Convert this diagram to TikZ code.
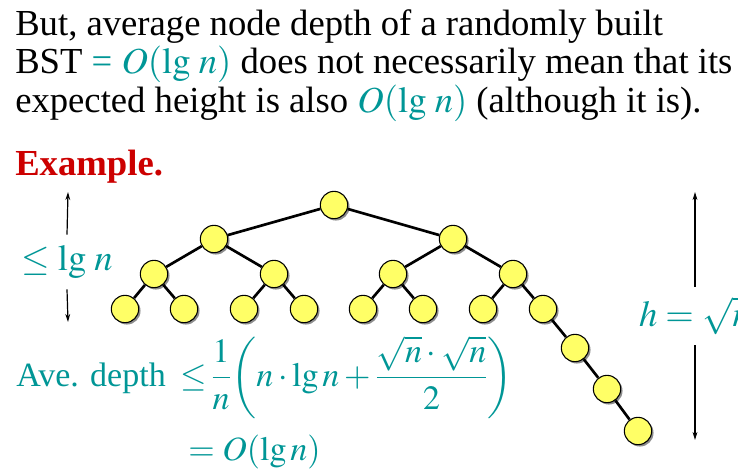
\documentclass[tikz,border=0pt]{standalone}
\usepackage{amsmath}
\usepackage{mathptmx}
\usepackage{fontspec}
\setmainfont{Liberation Serif}
\usetikzlibrary{shadows,arrows.meta}
\definecolor{tealtext}{RGB}{0,150,150}
\definecolor{exred}{RGB}{204,0,0}
\definecolor{nodefill}{RGB}{255,255,102}
\begin{document}
\begin{tikzpicture}[x=0.75pt,y=-0.75pt,
  bstnode/.style={circle,draw=black,line width=0.8pt,fill=nodefill,minimum size=20.5pt,inner sep=0pt,
    drop shadow={shadow xshift=1.4pt,shadow yshift=-1.4pt,fill=black!45,opacity=1}},
  bstedge/.style={line width=2pt},
  dimarrow/.style={-{Stealth[length=6pt,width=3.6pt]},line width=0.9pt},
  bigtext/.style={font=\fontsize{27.5pt}{31pt}\selectfont}]
\useasboundingbox (0,0) rectangle (738,472);
% text above the tree
\node[bigtext,anchor=base west,inner sep=0pt] (line1) at (15,35) {But, average node depth of a randomly built};
\node[bigtext,anchor=base west,inner sep=0pt] (line2) at (15,73) {BST {\color{tealtext}= $O(\lg\,n)$} does not necessarily mean that its};
\node[bigtext,anchor=base west,inner sep=0pt] (line3) at (15,112) {expected height is also {\color{tealtext}$O(\lg\,n)$} (although it is).};
\node[bigtext,anchor=base west,inner sep=0pt,text=exred] (exLbl) at (15,175) {\bfseries Example.};
% the tree
\path[draw]  (334,205)node[bstnode] (n1) {};
\path[draw]  (214,239)node[bstnode] (n2) {};
\path[draw]  (453,239)node[bstnode] (n3) {};
\path[draw]  (154,274)node[bstnode] (n4) {};
\path[draw]  (274,274)node[bstnode] (n5) {};
\path[draw]  (393,274)node[bstnode] (n6) {};
\path[draw]  (513,274)node[bstnode] (n7) {};
\path[draw]  (125,309)node[bstnode] (n8) {};
\path[draw]  (184,309)node[bstnode] (n9) {};
\path[draw]  (244,309)node[bstnode] (n10) {};
\path[draw]  (304,309)node[bstnode] (n11) {};
\path[draw]  (363,309)node[bstnode] (n12) {};
\path[draw]  (423,309)node[bstnode] (n13) {};
\path[draw]  (483,309)node[bstnode] (n14) {};
\path[draw]  (543,309)node[bstnode] (n15) {};
\path[draw]  (575,348)node[bstnode] (c1) {};
\path[draw]  (607,389)node[bstnode] (c2) {};
\path[draw]  (638,431)node[bstnode] (c3) {};
\draw[bstedge] (n1) -- (n2);
\draw[bstedge] (n1) -- (n3);
\draw[bstedge] (n2) -- (n4);
\draw[bstedge] (n2) -- (n5);
\draw[bstedge] (n3) -- (n6);
\draw[bstedge] (n3) -- (n7);
\draw[bstedge] (n4) -- (n8);
\draw[bstedge] (n4) -- (n9);
\draw[bstedge] (n5) -- (n10);
\draw[bstedge] (n5) -- (n11);
\draw[bstedge] (n6) -- (n12);
\draw[bstedge] (n6) -- (n13);
\draw[bstedge] (n7) -- (n14);
\draw[bstedge] (n7) -- (n15);
\draw[bstedge] (n15) -- (c1);
\draw[bstedge] (c1) -- (c2);
\draw[bstedge] (c2) -- (c3);
% heights
\coordinate (lgTop) at (68,192);
\coordinate (lgBot) at (68,322);
\node[bigtext,text=tealtext,inner xsep=0pt,inner ysep=8pt] (lgLbl) at (67,262) {$\le\lg\,n$};
\draw[dimarrow] (lgLbl.north) -- (lgTop);
\draw[dimarrow] (lgLbl.south) -- (lgBot);
\coordinate (hTop) at (695,192);
\coordinate (hBot) at (695,440);
\node[bigtext,text=tealtext,inner xsep=0pt,inner ysep=7.5pt] (hLbl) at (695,316) {$h=\sqrt{n}$};
\draw[dimarrow] (hLbl.north) -- (hTop);
\draw[dimarrow] (hLbl.south) -- (hBot);
% average depth
\node[anchor=base west,inner sep=0pt,text=tealtext,font=\fontsize{25.5pt}{30pt}\selectfont] (aveDepth) at (16,386)
  {$\begin{aligned}[t]\text{Ave. depth}\;\;&{\le}\,\frac{1}{n}\!\left(n\cdot\lg n+\frac{\sqrt{n}\cdot\sqrt{n}}{2}\right)\\[7pt]&=O(\lg n)\end{aligned}$};
\end{tikzpicture}
\end{document}
